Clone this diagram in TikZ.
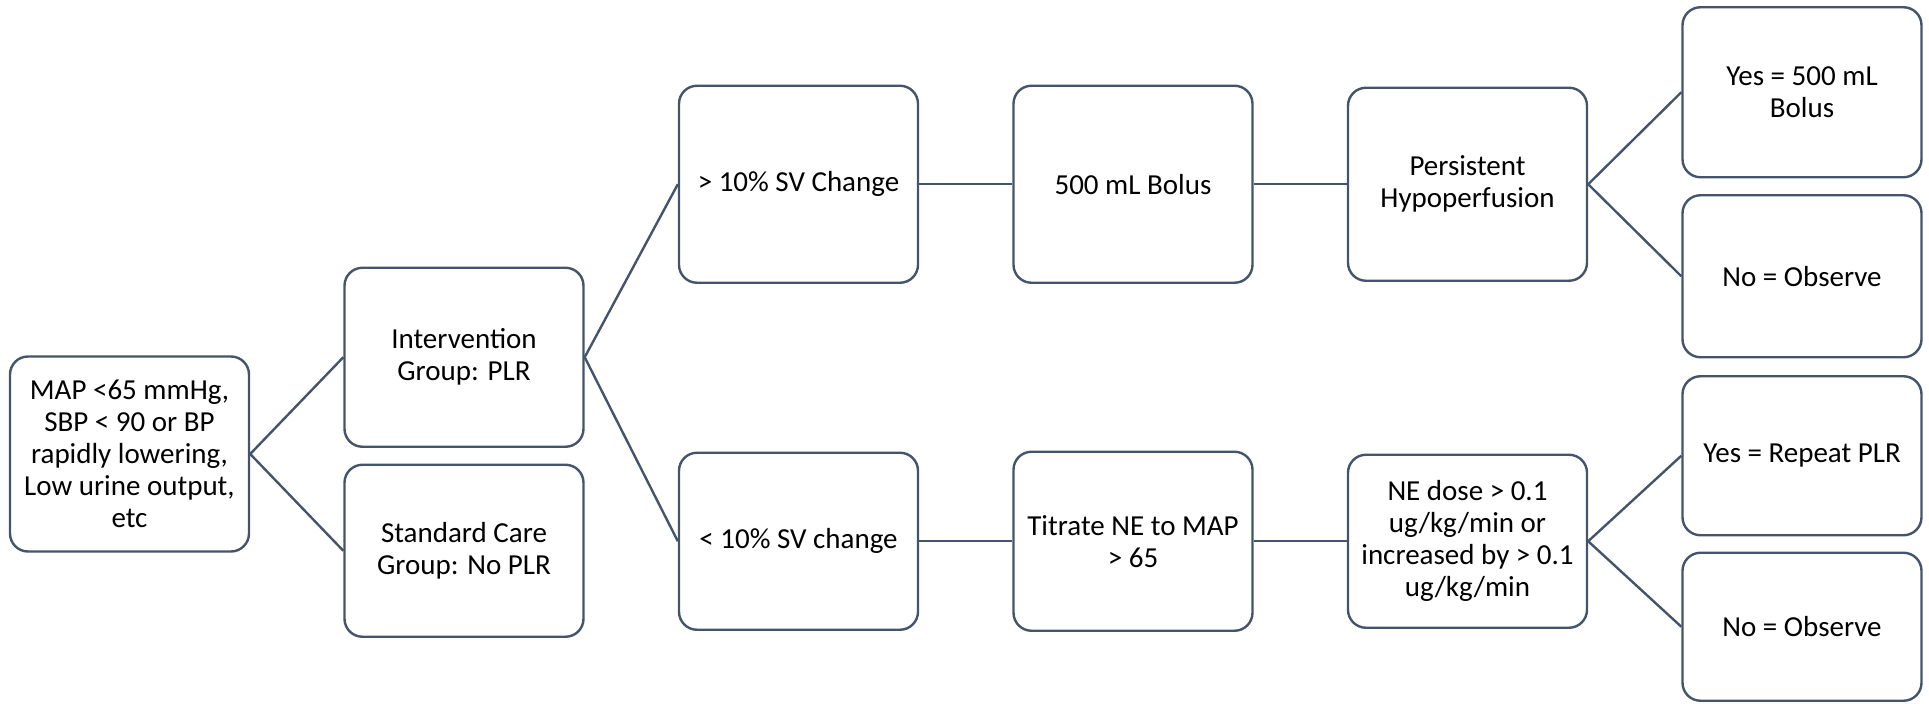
\documentclass[tikz,border=0pt]{standalone}
\usepackage{fontspec}
\setmainfont{Carlito}

\definecolor{slate}{HTML}{44546A}

\begin{document}
\begin{tikzpicture}[x=0.5pt, y=0.5pt, grow'=right, level distance=167.25pt,
    every node/.style={draw=slate, line width=1.2pt, rounded corners=9pt, minimum width=119.5pt, inner sep=2pt, align=center, font=\fontsize{14.5}{16}\selectfont},
    edge from parent/.style={draw=slate, line width=1.2pt},
    edge from parent path={(\tikzparentnode.east) -- (\tikzchildnode.west)},
    level 1/.style={sibling distance=96.75pt},
    level 2/.style={sibling distance=178.5pt}]
  \useasboundingbox (0,0) rectangle (1929,703);
  \node (map) [minimum height=97.5pt] at (129.5,249) {MAP <65 mmHg,\\SBP < 90 or BP\\rapidly lowering,\\Low urine output,\\etc}
    child {node (plr) [minimum height=89.5pt] {Intervention\\Group: PLR}
      child[yshift=-2.75pt] {node (svup) [minimum height=98.5pt] {> 10\% SV Change} child {node (bolus) [minimum height=98.5pt] {500 mL Bolus} child {node (hypo) [minimum height=96.5pt] {Persistent\\Hypoperfusion} [sibling distance=92pt] child {node (rebolus) [minimum height=85pt] {Yes = 500 mL\\Bolus}} child {node (obsa) [minimum height=81pt] {No = Observe}}}}}
      child[yshift=-2.75pt] {node (svdown) [minimum height=88.5pt] {< 10\% SV change} child {node (titrate) [minimum height=89.5pt] {Titrate NE to MAP\\> 65} child {node (nedose) [minimum height=86.5pt] {NE dose > 0.1\\ug/kg/min or\\increased by > 0.1\\ug/kg/min} [sibling distance=85.5pt] child {node (replr) [minimum height=79.5pt] {Yes = Repeat PLR}} child {node (obsb) [minimum height=74pt] {No = Observe}}}}}}
    child {node (std) [minimum height=86pt] {Standard Care\\Group: No PLR}};
\end{tikzpicture}
\end{document}
